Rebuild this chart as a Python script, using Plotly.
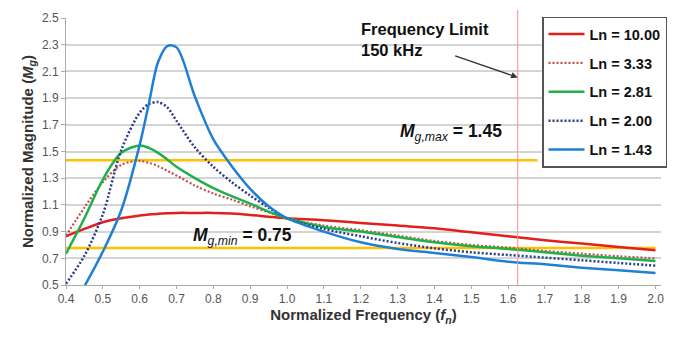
import plotly.graph_objects as go

# ---------------- data ----------------
FN = [0.40, 0.45, 0.50, 0.55, 0.60, 0.625, 0.65, 0.675, 0.70, 0.75, 0.80, 0.85,
      0.90, 0.95, 1.00, 1.10, 1.20, 1.30, 1.40, 1.50, 1.60, 1.70, 1.80, 1.90, 2.00]

LN_10_00 = [0.865, 0.92, 0.97, 1.00, 1.02, 1.028, 1.033, 1.037, 1.04, 1.04, 1.04, 1.035,
            1.025, 1.012, 1.00, 0.985, 0.965, 0.945, 0.925, 0.895, 0.865, 0.835, 0.81, 0.785, 0.76]
LN_3_33 = [0.87, 1.08, 1.27, 1.40, 1.43, 1.415, 1.39, 1.355, 1.32, 1.245, 1.185, 1.14,
           1.09, 1.045, 1.00, 0.945, 0.91, 0.87, 0.83, 0.80, 0.78, 0.755, 0.735, 0.715, 0.70]
LN_2_81 = [0.735, 1.00, 1.29, 1.49, 1.545, 1.527, 1.49, 1.44, 1.385, 1.30, 1.225, 1.165,
           1.11, 1.05, 1.00, 0.935, 0.90, 0.86, 0.82, 0.79, 0.77, 0.745, 0.72, 0.70, 0.68]
LN_2_00 = [0.51, 0.72, 1.03, 1.51, 1.79, 1.855, 1.87, 1.83, 1.73, 1.53, 1.385, 1.27,
           1.17, 1.08, 1.00, 0.92, 0.865, 0.815, 0.775, 0.745, 0.725, 0.705, 0.685, 0.665, 0.645]
FN_143 = FN[1:]
LN_1_43 = [0.49, 0.75, 1.06, 1.55, 1.86, 2.17, 2.29, 2.28, 1.91, 1.59, 1.39,
           1.22, 1.09, 1.00, 0.90, 0.82, 0.77, 0.74, 0.71, 0.675, 0.655, 0.63, 0.61, 0.59]

SERIES_NAMES = ["Ln = 10.00", "Ln = 3.33", "Ln = 2.81", "Ln = 2.00", "Ln = 1.43"]

MG_MAX_LINE = 1.435
MG_MIN_LINE = 0.778
MG_MAX_LABEL = "1.45"
MG_MIN_LABEL = "0.75"
FREQ_LIMIT = 1.626

X_TICKS = [round(0.4 + 0.1 * i, 1) for i in range(17)]
Y_TICKS = [round(0.5 + 0.2 * i, 1) for i in range(11)]

# ---------------- styles ----------------
FONT = "Liberation Sans, Arial, sans-serif"
styles = [
    dict(color="#e0201b", width=2.5, dash="solid"),
    dict(color="#c0504d", width=2.2, dash="2px,2px"),
    dict(color="#1fb04a", width=2.5, dash="solid"),
    dict(color="#2a3a8c", width=2.5, dash="2px,2px"),
    dict(color="#1f7fd6", width=2.5, dash="solid"),
]
xs = [FN, FN, FN, FN, FN_143]
ys = [LN_10_00, LN_3_33, LN_2_81, LN_2_00, LN_1_43]

fig = go.Figure()
for name, x, y, st in zip(SERIES_NAMES, xs, ys, styles):
    fig.add_trace(go.Scatter(
        x=x, y=y, name=name, mode="lines", legendgroup=name,
        line=dict(color=st["color"], width=st["width"], dash=st["dash"],
                  shape="spline", smoothing=0.9),
    ))

# reference lines
fig.add_shape(type="line", xref="x", yref="y", x0=0.4, x1=1.68,
              y0=MG_MAX_LINE, y1=MG_MAX_LINE, line=dict(color="#ffc000", width=2.5), layer="below")
fig.add_shape(type="line", xref="x", yref="y", x0=0.4, x1=2.0,
              y0=MG_MIN_LINE, y1=MG_MIN_LINE, line=dict(color="#ffc000", width=2.5), layer="below")
fig.add_shape(type="line", xref="x", yref="paper", x0=FREQ_LIMIT, x1=FREQ_LIMIT,
              y0=0, y1=1.03, line=dict(color="#ff8c8c", width=1))

ann_font = dict(family=FONT, size=16.5, color="#111")
fig.add_annotation(xref="paper", yref="paper", x=0.493, y=1.0, xanchor="left", yanchor="top",
                   text="<b>Frequency Limit<br>150 kHz</b>", showarrow=False, align="left",
                   font=ann_font)
fig.add_annotation(xref="x", yref="y", x=FREQ_LIMIT, y=2.055, ax=-64, ay=-22,
                   text="", showarrow=True, arrowhead=2, arrowsize=1, arrowwidth=1.3,
                   arrowcolor="#333")
fig.add_annotation(xref="x", yref="y", x=1.3, y=1.64, xanchor="left", yanchor="middle",
                   text="<b><i>M</i></b><sub><i>g,max</i></sub><b> = " + MG_MAX_LABEL + "</b>",
                   showarrow=False, font=dict(family=FONT, size=17.5, color="#111"))
fig.add_annotation(xref="x", yref="y", x=0.74, y=0.865, xanchor="left", yanchor="middle",
                   text="<b><i>M</i></b><sub><i>g,min</i></sub><b> = " + MG_MIN_LABEL + "</b>",
                   showarrow=False, font=dict(family=FONT, size=17.5, color="#111"))

tick_font = dict(family=FONT, size=12, color="#555")
fig.update_layout(
    width=684, height=337,
    margin=dict(l=66, r=23, t=11, b=52),
    paper_bgcolor="white", plot_bgcolor="white",
    font=dict(family=FONT),
    showlegend=True,
    legend=dict(x=0.80, y=1.005, xanchor="left", yanchor="top",
                bgcolor="white", bordercolor="#555", borderwidth=1.5,
                font=dict(family=FONT, size=14.5, color="#111", weight="bold"),
                tracegroupgap=7, itemwidth=36),
    xaxis=dict(range=[0.4, 2.015], tickmode="array", tickvals=X_TICKS,
               ticktext=[f"{v:.1f}" for v in X_TICKS],
               showgrid=False, zeroline=False, showline=True, linecolor="#aaa", linewidth=1,
               ticks="outside", ticklen=3, tickcolor="#aaa", tickfont=tick_font,
               title=dict(text="<b>Normalized Frequency (<i>f<sub>n</sub></i>)</b>",
                          font=dict(family=FONT, size=15, color="#333"), standoff=4)),
    yaxis=dict(range=[0.5, 2.5], tickmode="array", tickvals=Y_TICKS,
               ticktext=[f"{v:.1f}" for v in Y_TICKS],
               showgrid=True, gridcolor="#d4d4d4", gridwidth=1.5, zeroline=False,
               showline=True, linecolor="#aaa", linewidth=1,
               ticks="outside", ticklen=4, tickcolor="#aaa", tickfont=tick_font,
               title=dict(text="<b>Normalized Magnitude (<i>M<sub>g</sub></i>)</b>",
                          font=dict(family=FONT, size=15, color="#333"), standoff=4)),
)

fig.write_html("out.html")
